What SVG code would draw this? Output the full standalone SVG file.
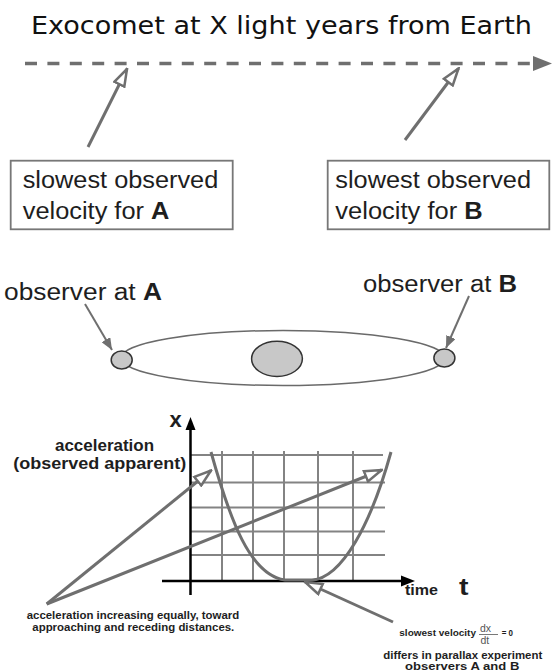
<svg xmlns="http://www.w3.org/2000/svg" width="553" height="672" viewBox="0 0 553 672">
<style>
  text { font-family: "Liberation Sans", Arial, sans-serif; fill: #1e1e1e; }
  .title { font-family: "DejaVu Sans", sans-serif; font-size: 25px; fill: #111; }
  .box { fill: #fff; stroke: #777; stroke-width: 1.8; }
  .big { font-size: 23.5px; }
  .b { font-weight: bold; }
  .conn { stroke: #6f6f6f; stroke-width: 3; fill: none; }
  .thin { stroke: #6f6f6f; stroke-width: 2; fill: none; }
  .grid line { stroke: #838383; stroke-width: 2; }
  .axis { stroke: #000; stroke-width: 2.5; fill: none; }
  .disc { fill: #c8c8c8; stroke: #333; stroke-width: 1.5; }
  .frac { fill: #555; font-size: 10.5px; }
</style>
<defs>
  <marker id="hollow" viewBox="0 0 20 14" refX="18.5" refY="7" markerWidth="20" markerHeight="14" markerUnits="userSpaceOnUse" orient="auto">
    <path d="M1.5,1.5 L18.5,7 L1.5,12.5 Z" fill="#fff" stroke="#6f6f6f" stroke-width="2.5" stroke-linejoin="miter"/>
  </marker>
  <marker id="filled" viewBox="0 0 12 10" refX="12" refY="5" markerWidth="12" markerHeight="10" markerUnits="userSpaceOnUse" orient="auto">
    <path d="M0,0 L12,5 L0,10 Z" fill="#6f6f6f"/>
  </marker>
</defs>

<g id="title">
  <text class="title" x="31" y="33.5" textLength="501" lengthAdjust="spacingAndGlyphs">Exocomet at X light years from Earth</text>
</g>

<g id="trajectory">
  <line x1="25" y1="63.5" x2="533" y2="63.5" stroke="#6f6f6f" stroke-width="3.5" stroke-dasharray="12 10.4"/>
  <polygon points="533,56 552,63.5 533,71" fill="#6f6f6f"/>
</g>

<g id="box-a">
  <rect class="box" x="10.7" y="160.7" width="222" height="68.6"/>
  <text class="big" x="22.7" y="188" textLength="195.6" lengthAdjust="spacingAndGlyphs">slowest observed</text>
  <text class="big" x="22.7" y="219" textLength="146.7" lengthAdjust="spacingAndGlyphs">velocity for <tspan class="b">A</tspan></text>
</g>

<g id="box-b">
  <rect class="box" x="327.7" y="160.7" width="221.6" height="68.6"/>
  <text class="big" x="335.3" y="188" textLength="195.7" lengthAdjust="spacingAndGlyphs">slowest observed</text>
  <text class="big" x="335.3" y="219" textLength="147.4" lengthAdjust="spacingAndGlyphs">velocity for <tspan class="b">B</tspan></text>
</g>

<g id="label-observer-a">
  <text class="big" x="4" y="300" textLength="158" lengthAdjust="spacingAndGlyphs">observer at <tspan class="b">A</tspan></text>
</g>
<g id="label-observer-b">
  <text class="big" x="363" y="292" textLength="154" lengthAdjust="spacingAndGlyphs">observer at <tspan class="b">B</tspan></text>
</g>

<g id="orbit">
  <ellipse cx="283" cy="358" rx="162" ry="27.5" fill="none" stroke="#6a6a6a" stroke-width="1.5"/>
</g>
<g id="sun">
  <ellipse class="disc" cx="277" cy="358.8" rx="25.4" ry="17.6"/>
</g>
<g id="observer-a">
  <ellipse class="disc" cx="121.7" cy="360" rx="10.5" ry="9"/>
</g>
<g id="observer-b">
  <ellipse class="disc" cx="444.4" cy="358" rx="10.5" ry="9"/>
</g>

<g id="graph">
  <g class="grid">
    <line x1="190" y1="455" x2="383" y2="455"/>
    <line x1="190" y1="482.5" x2="385" y2="482.5"/>
    <line x1="190" y1="507.5" x2="385" y2="507.5"/>
    <line x1="190" y1="531.5" x2="385" y2="531.5"/>
    <line x1="190" y1="555" x2="385" y2="555"/>
    <line x1="222" y1="451" x2="222" y2="581"/>
    <line x1="253" y1="451" x2="253" y2="581"/>
    <line x1="284" y1="451" x2="284" y2="581"/>
    <line x1="318" y1="451" x2="318" y2="581"/>
    <line x1="353" y1="451" x2="353" y2="581"/>
  </g>
  <line class="axis" x1="190.5" y1="428" x2="190.5" y2="595"/>
  <polygon points="185.5,430 190.5,417 195.5,430" fill="#000"/>
  <line class="axis" x1="162" y1="581" x2="403" y2="581"/>
  <polygon points="401,575.5 415,581 401,586.5" fill="#000"/>
  <text class="b" x="169.5" y="427" font-size="22">x</text>
  <text class="b" x="405" y="595" font-size="15" textLength="33" lengthAdjust="spacingAndGlyphs">time</text>
  <text class="b" x="459" y="595" font-size="24" textLength="9.5" lengthAdjust="spacingAndGlyphs">t</text>
  <path id="curve" class="conn" d="M211,452 C230,520 250,575 285,580 L312,580 C342,578 371,524 391,452"/>
</g>

<g id="label-acceleration">
  <text class="b" x="104.5" y="451" font-size="16" text-anchor="middle" textLength="99" lengthAdjust="spacingAndGlyphs">acceleration</text>
  <text class="b" x="13.3" y="469" font-size="16" textLength="173" lengthAdjust="spacingAndGlyphs">(observed apparent)</text>
</g>

<g id="label-increasing">
  <text class="b" x="26.7" y="618.5" font-size="10" textLength="212.6" lengthAdjust="spacingAndGlyphs">acceleration increasing equally, toward</text>
  <text class="b" x="32.3" y="631" font-size="10" textLength="202" lengthAdjust="spacingAndGlyphs">approaching and receding distances.</text>
</g>

<g id="label-slowest">
  <text class="b" x="399.3" y="636" font-size="9" textLength="76.7" lengthAdjust="spacingAndGlyphs">slowest velocity</text>
  <text class="frac" x="480" y="632">dx</text>
  <line x1="479" y1="634.5" x2="498" y2="634.5" stroke="#555" stroke-width="0.8"/>
  <text class="frac" x="480.5" y="644">dt</text>
  <text class="b" x="501.7" y="636" font-size="9" textLength="11.3" lengthAdjust="spacingAndGlyphs">= 0</text>
  <text class="b" x="383.3" y="658.5" font-size="10" textLength="159" lengthAdjust="spacingAndGlyphs">differs in parallax experiment</text>
  <text class="b" x="405" y="670" font-size="10" textLength="114.3" lengthAdjust="spacingAndGlyphs">observers A and B</text>
</g>

<g id="connectors">
  <line class="conn" x1="88" y1="147" x2="127" y2="69" marker-end="url(#hollow)"/>
  <line class="conn" x1="405" y1="140" x2="458.5" y2="68.5" marker-end="url(#hollow)"/>
  <line class="thin" x1="85" y1="304" x2="112" y2="350" marker-end="url(#filled)"/>
  <line class="thin" x1="469" y1="296" x2="446" y2="348" marker-end="url(#filled)"/>
  <line class="conn" x1="46.7" y1="604" x2="381.7" y2="470" marker-end="url(#hollow)"/>
  <line class="conn" x1="46.7" y1="604" x2="211" y2="470.5" marker-end="url(#hollow)"/>
  <line class="conn" x1="393" y1="622" x2="305" y2="582" marker-end="url(#hollow)"/>
</g>
</svg>
